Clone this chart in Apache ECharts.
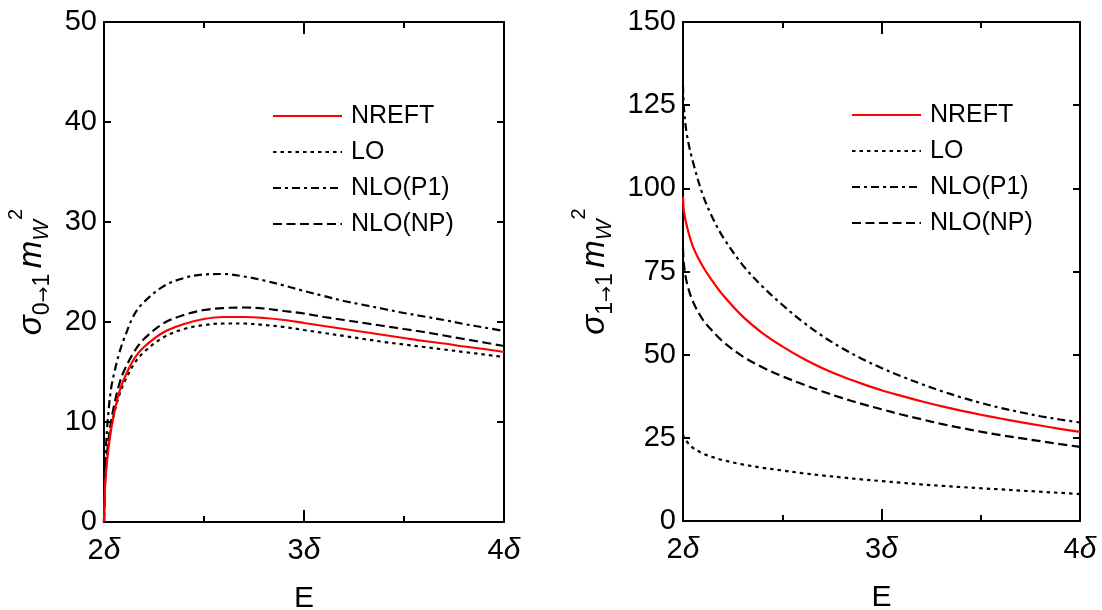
<!DOCTYPE html>
<html><head><meta charset="utf-8">
<script src="https://cdn.jsdelivr.net/npm/echarts@6/dist/echarts.min.js"></script>
<style>html,body{margin:0;padding:0;background:#fff}#c{width:1102px;height:610px}</style>
</head><body><div id="c"></div>
<script>
// ---- data (E in units of delta) ----
const energyLeft = [2, 2.005, 2.01, 2.02, 2.035, 2.05, 2.075, 2.1, 2.15, 2.2, 2.3, 2.4, 2.5, 2.6, 2.7, 2.8, 2.9, 3.0, 3.1, 3.2, 3.3, 3.4, 3.5, 3.6, 3.7, 3.8, 3.9, 4.0];
const left_NREFT = [0, 3.5, 5.0, 7.0, 9.2, 10.8, 12.9, 14.3, 16.3, 17.5, 19.0, 19.8, 20.3, 20.5, 20.5, 20.4, 20.2, 19.9, 19.6, 19.3, 19.0, 18.7, 18.4, 18.1, 17.85, 17.55, 17.3, 17.0];
const left_LO    = [0, 3.8, 5.3, 7.3, 9.3, 10.8, 12.6, 13.9, 15.8, 17.0, 18.5, 19.3, 19.7, 19.85, 19.85, 19.7, 19.5, 19.2, 18.9, 18.6, 18.3, 18.0, 17.75, 17.5, 17.25, 17.0, 16.75, 16.5];
const left_P1    = [0, 5.0, 7.5, 10.5, 13.3, 14.8, 16.8, 18.3, 20.7, 22.0, 23.6, 24.4, 24.75, 24.8, 24.55, 24.15, 23.65, 23.1, 22.6, 22.1, 21.7, 21.3, 20.9, 20.55, 20.2, 19.8, 19.45, 19.1];
const left_NP    = [0, 4.0, 5.6, 7.8, 10.0, 11.6, 13.7, 15.1, 17.0, 18.3, 19.9, 20.7, 21.2, 21.4, 21.45, 21.35, 21.1, 20.85, 20.5, 20.2, 19.9, 19.6, 19.3, 19.0, 18.65, 18.3, 17.95, 17.6];

const energyRight = [2, 2.005, 2.02, 2.05, 2.1, 2.15, 2.2, 2.3, 2.4, 2.5, 2.6, 2.7, 2.8, 2.9, 3.0, 3.1, 3.2, 3.3, 3.4, 3.5, 3.6, 3.7, 3.8, 3.9, 4.0];
const right_NREFT = [97.5, 93, 88.5, 82.5, 76.5, 72, 68, 61.5, 56.5, 52.5, 49, 46, 43.5, 41.3, 39.3, 37.6, 36.0, 34.55, 33.2, 31.95, 30.8, 29.7, 28.7, 27.7, 26.8];
const right_LO    = [26, 25, 23.8, 22, 20.3, 19.2, 18.3, 17, 16, 15.2, 14.4, 13.7, 13.1, 12.5, 12.0, 11.5, 11.0, 10.6, 10.2, 9.85, 9.5, 9.15, 8.8, 8.45, 8.1];
const right_P1    = [131, 124, 116, 108, 98, 91, 85.5, 77, 70.5, 65, 60, 55.7, 52.0, 48.8, 46, 43.5, 41.2, 39.1, 37.2, 35.5, 34, 32.7, 31.5, 30.5, 29.6];
const right_NP    = [82, 77, 71.5, 66, 60.5, 57, 54, 49.5, 46.2, 43.5, 41.2, 39, 37, 35.2, 33.6, 32.0, 30.6, 29.2, 28.0, 26.85, 25.8, 24.9, 24.0, 23.1, 22.3];

const seriesNames = ['NREFT', 'LO', 'NLO(P1)', 'NLO(NP)'];
const xTickValues = [2, 3, 4];

// ---- styles ----
const FONT = "'Liberation Sans', Arial, Helvetica, sans-serif";
const lineStyles = [
  {color: '#ff0000', width: 2.2, type: 'solid'},
  {color: '#000', width: 2.2, type: [3.5, 4]},
  {color: '#000', width: 2.2, type: [8, 4, 3, 4]},
  {color: '#000', width: 2.2, type: [9, 4.5]}
];

function pairs(xs, ys) { return xs.map((x, i) => [x, ys[i]]); }

function xAxes(grid, isTop) {
  return {
    type: 'value', gridIndex: grid, min: 2, max: 4, interval: 1,
    position: isTop ? 'top' : 'bottom',
    name: isTop ? '' : 'E', nameLocation: 'middle', nameGap: 62,
    nameTextStyle: {fontFamily: FONT, fontSize: 30, color: '#000'},
    axisLine: {show: true, onZero: false, lineStyle: {color: '#000', width: 2}},
    axisTick: {show: true, inside: true, length: 12, lineStyle: {color: '#000', width: 2}},
    minorTick: {show: true, splitNumber: 2, length: 6, lineStyle: {color: '#000', width: 2}},
    splitLine: {show: false},
    axisLabel: {
      show: !isTop, margin: 14, showMinLabel: true, showMaxLabel: true,
      formatter: v => xTickValues.includes(v) ? '{n|' + v + '}{d|δ}' : '',
      rich: {
        n: {fontFamily: FONT, fontSize: 29, color: '#000'},
        d: {fontFamily: FONT, fontSize: 30, fontStyle: 'italic', color: '#000'}
      }
    }
  };
}

function yAxes(grid, isRight, max, interval, nameText, gap) {
  return {
    type: 'value', gridIndex: grid, min: 0, max: max, interval: interval,
    position: isRight ? 'right' : 'left',
    name: isRight ? '' : nameText, nameLocation: 'middle', nameGap: gap, nameRotate: 90,
    nameTextStyle: {
      fontFamily: FONT, color: '#000',
      rich: {
        s: {fontFamily: FONT, fontSize: 33, fontStyle: 'italic', lineHeight: 56, verticalAlign: 'middle', color: '#000'},
        sub: {fontFamily: FONT, fontSize: 23, lineHeight: 24, verticalAlign: 'bottom', padding: [0, 0, 6, 0], color: '#000'},
        arr: {fontFamily: "'DejaVu Sans', sans-serif", fontSize: 19, lineHeight: 24, verticalAlign: 'bottom', padding: [0, 0, 6, 0], color: '#000'},
        gap: {fontFamily: FONT, fontSize: 20, lineHeight: 56, verticalAlign: 'middle'},
        m: {fontFamily: FONT, fontSize: 33, fontStyle: 'italic', lineHeight: 56, verticalAlign: 'middle', color: '#000'},
        subw: {fontFamily: FONT, fontSize: 22, fontStyle: 'italic', lineHeight: 22, verticalAlign: 'bottom', padding: [0, 0, 7, 0], color: '#000'},
        sup: {fontFamily: FONT, fontSize: 20, lineHeight: 20, verticalAlign: 'top', padding: [2, 0, 0, 0], color: '#000'}
      }
    },
    axisLine: {show: true, onZero: false, lineStyle: {color: '#000', width: 2}},
    axisTick: {show: true, inside: true, length: 7, lineStyle: {color: '#000', width: 2}},
    splitLine: {show: false},
    axisLabel: {show: !isRight, margin: 7, fontFamily: FONT, fontSize: 29, color: '#000'}
  };
}

function makeSeries(xIdx, yIdx, xs, arrays) {
  return arrays.map((arr, i) => ({
    name: seriesNames[i], type: 'line', xAxisIndex: xIdx, yAxisIndex: yIdx,
    data: pairs(xs, arr), symbol: 'none', smooth: 0.35, clip: true,
    lineStyle: lineStyles[i], itemStyle: {color: lineStyles[i].color},
    emphasis: {disabled: true}, z: i === 0 ? 3 : 2
  }));
}

function legend(left, top) {
  return {
    left: left, top: top, orient: 'vertical', padding: 0,
    itemWidth: 69, itemHeight: 14, itemGap: 10,
    data: seriesNames, selectedMode: false,
    itemStyle: {opacity: 0, borderWidth: 0},
    textStyle: {fontFamily: FONT, fontSize: 25, lineHeight: 26, color: '#000', padding: [0, 0, 0, 4]}
  };
}

const chart = echarts.init(document.getElementById('c'), null, {renderer: 'canvas'});
chart.setOption({
  animation: false,
  backgroundColor: '#fff',
  grid: [
    {left: 104, top: 22, width: 400, height: 500, containLabel: false, outerBoundsMode: 'none'},
    {left: 683, top: 22, width: 397, height: 499, containLabel: false, outerBoundsMode: 'none'}
  ],
  legend: [legend(272, 103), legend(851, 102)],
  xAxis: [xAxes(0, false), xAxes(0, true), xAxes(1, false), xAxes(1, true)],
  yAxis: [
    yAxes(0, false, 50, 10, '{s|σ}{sub|0}{arr|→}{sub|1}{gap| }{m|m}{subw|W}{sup|2}', 44),
    yAxes(0, true, 50, 10, '', 0),
    yAxes(1, false, 150, 25, '{s|σ}{sub|1}{arr|→}{sub|1}{gap| }{m|m}{subw|W}{sup|2}', 60),
    yAxes(1, true, 150, 25, '', 0)
  ],
  series: [].concat(
    makeSeries(0, 0, energyLeft, [left_NREFT, left_LO, left_P1, left_NP]),
    makeSeries(2, 2, energyRight, [right_NREFT, right_LO, right_P1, right_NP])
  )
});
</script>
</body></html>
